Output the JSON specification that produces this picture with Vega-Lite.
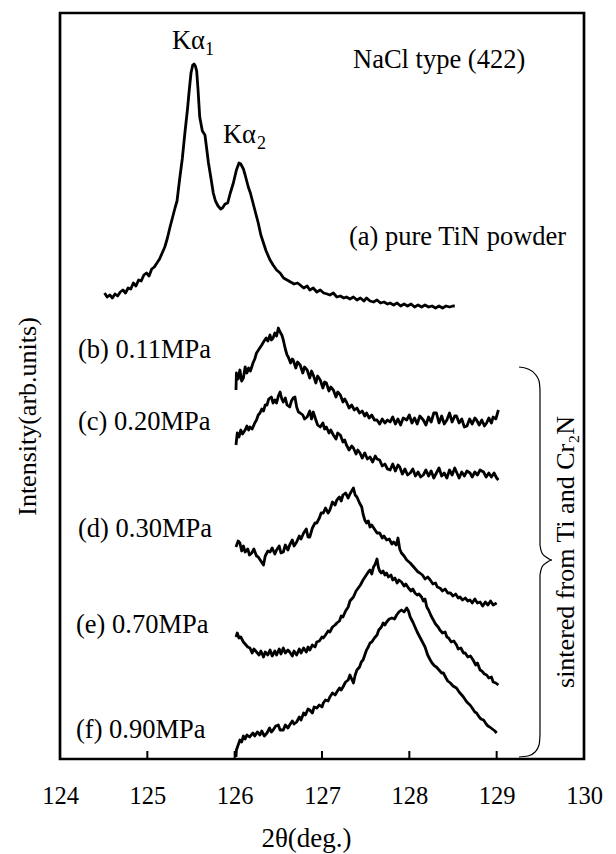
{
  "$schema": "https://vega.github.io/schema/vega-lite/v6.json",
  "width": 524,
  "height": 746,
  "autosize": {"type": "none"},
  "padding": {"left": 60, "top": 13, "right": 32, "bottom": 95},
  "background": "white",
  "config": {
    "view": {"stroke": "black", "strokeWidth": 2.7},
    "font": "Liberation Serif"
  },
  "datasets": {
    "a": [[124.51,466],[124.54,462],[124.57,464],[124.60,461],[124.63,465],[124.66,463],[124.69,467],[124.72,469],[124.75,466],[124.78,471],[124.81,470],[124.84,476],[124.87,473],[124.90,479],[124.93,478],[124.96,484],[124.99,486],[125.02,483],[125.05,490],[125.08,492],[125.11,496],[125.14,500],[125.17,506],[125.20,512],[125.23,521],[125.26,532],[125.29,542],[125.32,552],[125.34,558],[125.37,580],[125.40,600],[125.43,626],[125.46,650],[125.48,669],[125.50,686],[125.52,694],[125.535,695],[125.55,693],[125.565,688],[125.58,670],[125.60,642],[125.63,628],[125.66,624],[125.68,610],[125.70,596],[125.73,580],[125.755,566],[125.78,558],[125.81,553],[125.84,550],[125.86,551],[125.89,555],[125.92,556],[125.95,566],[125.985,576],[126.02,589],[126.05,596],[126.07,595],[126.10,590],[126.12,584],[126.156,572],[126.18,566],[126.21,556],[126.24,546],[126.27,536],[126.30,524],[126.33,516],[126.36,508],[126.405,499],[126.44,494],[126.48,489],[126.52,486],[126.56,481],[126.60,479],[126.64,477],[126.68,475],[126.72,476],[126.75,474],[126.79,471],[126.83,473],[126.86,469],[126.90,471],[126.94,467],[126.98,469],[127.02,466],[127.06,465],[127.09,464],[127.13,466],[127.17,462],[127.21,463],[127.25,461],[127.28,462],[127.32,460],[127.36,462],[127.40,459],[127.44,461],[127.48,458],[127.51,461],[127.55,458],[127.59,457],[127.63,459],[127.67,456],[127.71,457],[127.75,455],[127.78,456],[127.82,454],[127.86,456],[127.90,453],[127.94,455],[127.98,453],[128.02,455],[128.06,452],[128.10,454],[128.14,452],[128.18,454],[128.22,452],[128.26,453],[128.30,451],[128.34,453],[128.38,451],[128.42,453],[128.46,452],[128.50,453],[128.52,453]],
    "b": [[126.015,369],[126.02,386],[126.04,380],[126.06,389],[126.08,378],[126.10,381],[126.12,392],[126.14,386],[126.16,391],[126.18,388],[126.21,396],[126.23,400],[126.25,406],[126.28,410],[126.31,414],[126.33,417],[126.36,421],[126.38,418],[126.405,424],[126.42,419],[126.44,421],[126.46,426],[126.48,423],[126.50,431],[126.52,427],[126.54,424],[126.557,419],[126.58,410],[126.60,404],[126.614,402],[126.64,396],[126.66,400],[126.67,399],[126.70,391],[126.72,397],[126.75,394],[126.78,386],[126.80,392],[126.83,389],[126.86,381],[126.88,388],[126.90,384],[126.93,376],[126.95,383],[126.98,379],[127.01,371],[127.03,377],[127.05,376],[127.08,368],[127.10,372],[127.13,369],[127.16,362],[127.18,367],[127.21,364],[127.24,357],[127.26,360],[127.28,357],[127.31,351],[127.34,354],[127.37,349],[127.40,351],[127.43,346],[127.46,348],[127.49,343],[127.51,346],[127.54,341],[127.57,344],[127.60,339],[127.63,339],[127.66,335],[127.69,340],[127.72,336],[127.75,339],[127.78,337],[127.81,342],[127.84,335],[127.87,340],[127.90,334],[127.93,341],[127.97,339],[128.00,344],[128.03,336],[128.06,341],[128.09,335],[128.12,343],[128.16,339],[128.19,334],[128.22,342],[128.25,337],[128.28,346],[128.31,346],[128.34,336],[128.37,343],[128.40,335],[128.43,339],[128.46,346],[128.49,337],[128.52,343],[128.54,343],[128.57,336],[128.60,340],[128.63,332],[128.66,333],[128.69,340],[128.72,335],[128.75,341],[128.77,339],[128.80,334],[128.83,339],[128.86,333],[128.885,336],[128.91,341],[128.94,336],[128.96,342],[128.99,340],[129.01,346],[129.02,349]],
    "c": [[126.015,314],[126.03,326],[126.05,322],[126.07,329],[126.09,325],[126.12,329],[126.14,333],[126.16,329],[126.175,332],[126.20,330],[126.23,336],[126.25,339],[126.27,344],[126.29,346],[126.31,350],[126.33,348],[126.35,354],[126.37,354],[126.39,360],[126.42,362],[126.44,356],[126.46,359],[126.48,356],[126.50,363],[126.52,367],[126.54,360],[126.556,357],[126.58,361],[126.60,354],[126.63,352],[126.65,358],[126.67,361],[126.69,362],[126.71,352],[126.73,347],[126.75,346],[126.78,344],[126.80,340],[126.83,342],[126.86,348],[126.88,340],[126.90,347],[126.93,339],[126.95,334],[126.98,332],[127.01,336],[127.03,330],[127.05,332],[127.08,326],[127.10,329],[127.13,324],[127.16,320],[127.18,326],[127.21,324],[127.24,317],[127.26,319],[127.28,314],[127.31,309],[127.34,313],[127.36,311],[127.39,305],[127.41,309],[127.435,306],[127.46,301],[127.49,306],[127.52,300],[127.55,302],[127.58,297],[127.61,303],[127.63,300],[127.66,299],[127.69,293],[127.72,295],[127.75,290],[127.78,289],[127.81,295],[127.84,288],[127.87,294],[127.89,292],[127.92,285],[127.95,290],[127.98,284],[128.01,286],[128.04,290],[128.07,283],[128.10,287],[128.13,282],[128.16,284],[128.19,289],[128.22,283],[128.25,288],[128.28,281],[128.31,286],[128.34,291],[128.37,283],[128.40,286],[128.43,281],[128.46,289],[128.49,284],[128.52,291],[128.54,287],[128.57,281],[128.60,287],[128.63,283],[128.66,288],[128.695,286],[128.72,282],[128.75,287],[128.78,284],[128.81,289],[128.85,287],[128.88,282],[128.91,286],[128.94,282],[128.97,286],[129.00,281],[129.02,279]],
    "d": [[126.015,212],[126.04,218],[126.06,216],[126.08,208],[126.10,213],[126.12,207],[126.15,210],[126.17,204],[126.195,206],[126.22,210],[126.25,203],[126.27,202],[126.30,198],[126.33,194],[126.35,203],[126.38,208],[126.405,207],[126.43,211],[126.46,205],[126.48,209],[126.51,213],[126.53,206],[126.557,207],[126.58,214],[126.61,209],[126.63,214],[126.66,219],[126.68,213],[126.71,217],[126.74,223],[126.76,220],[126.79,226],[126.82,230],[126.84,222],[126.86,222],[126.89,231],[126.92,236],[126.94,236],[126.97,241],[126.99,246],[127.015,246],[127.04,251],[127.07,246],[127.09,249],[127.12,257],[127.15,254],[127.17,259],[127.20,262],[127.22,258],[127.24,264],[127.27,266],[127.30,261],[127.32,265],[127.34,268],[127.36,271],[127.38,264],[127.40,262],[127.43,256],[127.455,252],[127.47,245],[127.49,239],[127.51,236],[127.53,238],[127.55,232],[127.57,234],[127.60,230],[127.63,226],[127.66,226],[127.69,221],[127.71,223],[127.74,219],[127.77,220],[127.80,215],[127.82,217],[127.85,214],[127.87,221],[127.89,210],[127.91,206],[127.94,203],[127.97,199],[128.01,196],[128.04,193],[128.07,190],[128.10,187],[128.12,186],[128.15,184],[128.18,180],[128.21,182],[128.24,179],[128.27,175],[128.30,176],[128.32,172],[128.35,171],[128.38,168],[128.41,170],[128.44,166],[128.47,166],[128.50,163],[128.53,165],[128.56,161],[128.58,162],[128.61,159],[128.64,161],[128.67,158],[128.695,159],[128.72,156],[128.75,160],[128.78,156],[128.81,157],[128.84,153],[128.87,157],[128.90,154],[128.93,158],[128.96,154],[129.00,156]],
    "e": [[126.015,122],[126.03,126],[126.05,121],[126.07,122],[126.10,117],[126.12,115],[126.15,112],[126.175,111],[126.20,106],[126.22,110],[126.25,107],[126.28,104],[126.30,108],[126.33,102],[126.35,107],[126.38,104],[126.405,109],[126.43,103],[126.46,108],[126.48,104],[126.51,110],[126.53,105],[126.557,111],[126.58,106],[126.61,109],[126.63,107],[126.66,103],[126.68,108],[126.71,104],[126.74,110],[126.76,106],[126.79,111],[126.82,107],[126.84,112],[126.86,109],[126.89,114],[126.92,112],[126.94,117],[126.97,118],[127.00,122],[127.015,121],[127.04,124],[127.07,128],[127.09,127],[127.12,132],[127.15,134],[127.17,136],[127.20,138],[127.22,143],[127.24,142],[127.27,148],[127.30,152],[127.32,158],[127.34,160],[127.36,162],[127.39,168],[127.415,171],[127.44,174],[127.47,179],[127.50,183],[127.53,187],[127.55,189],[127.57,185],[127.59,192],[127.61,195],[127.63,200],[127.645,192],[127.66,188],[127.68,186],[127.70,188],[127.72,184],[127.74,186],[127.76,182],[127.79,184],[127.81,179],[127.835,181],[127.86,176],[127.88,179],[127.91,177],[127.94,173],[127.96,175],[127.99,171],[128.02,168],[128.04,170],[128.065,166],[128.09,164],[128.11,165],[128.14,162],[128.16,158],[128.18,160],[128.20,152],[128.22,149],[128.25,143],[128.275,139],[128.30,135],[128.33,132],[128.35,129],[128.38,126],[128.41,127],[128.43,122],[128.45,121],[128.48,117],[128.51,118],[128.54,114],[128.56,110],[128.59,111],[128.62,106],[128.64,106],[128.67,102],[128.70,103],[128.73,99],[128.76,94],[128.78,96],[128.81,89],[128.83,88],[128.86,85],[128.885,84],[128.91,81],[128.94,82],[128.96,77],[128.99,76],[129.02,74]],
    "f": [[126.015,2],[126.02,9],[126.04,14],[126.06,19],[126.08,17],[126.10,23],[126.12,20],[126.14,24],[126.17,22],[126.21,26],[126.23,23],[126.26,27],[126.29,24],[126.31,28],[126.34,23],[126.37,26],[126.40,31],[126.42,27],[126.44,29],[126.47,33],[126.50,34],[126.52,29],[126.557,29],[126.58,34],[126.61,31],[126.63,34],[126.66,38],[126.68,35],[126.71,37],[126.74,42],[126.76,39],[126.79,46],[126.81,44],[126.84,50],[126.86,49],[126.89,46],[126.91,52],[126.94,51],[126.97,54],[127.00,52],[127.015,56],[127.04,59],[127.07,58],[127.09,62],[127.12,66],[127.15,64],[127.17,67],[127.20,71],[127.22,69],[127.24,72],[127.27,77],[127.30,79],[127.32,84],[127.34,80],[127.36,76],[127.38,84],[127.40,89],[127.43,92],[127.45,97],[127.47,99],[127.49,104],[127.51,109],[127.53,112],[127.55,116],[127.57,117],[127.60,121],[127.63,124],[127.65,129],[127.68,132],[127.70,136],[127.72,134],[127.74,137],[127.77,140],[127.80,141],[127.83,140],[127.855,144],[127.88,147],[127.91,149],[127.94,147],[127.97,151],[127.99,148],[128.01,142],[128.04,137],[128.065,132],[128.09,127],[128.12,122],[128.15,117],[128.18,112],[128.21,104],[128.24,99],[128.26,96],[128.29,93],[128.31,92],[128.34,89],[128.37,86],[128.39,86],[128.42,81],[128.44,78],[128.47,76],[128.50,73],[128.54,71],[128.57,67],[128.60,64],[128.62,62],[128.65,58],[128.67,56],[128.695,54],[128.72,51],[128.75,47],[128.77,46],[128.80,42],[128.82,40],[128.85,39],[128.88,35],[128.90,33],[128.92,32],[128.95,30],[128.98,28],[129.00,26]]
  },
  "layer": [
    {
      "data": {"name": "a"},
      "transform": [
        {"calculate": "datum[0]", "as": "theta"},
        {"calculate": "datum[1]", "as": "intensity"}
      ],
      "mark": {"type": "line", "color": "black", "strokeWidth": 2.8, "strokeJoin": "round"},
      "encoding": {
        "x": {"field": "theta", "type": "quantitative",
          "scale": {"domain": [124, 130], "nice": false, "zero": false},
          "axis": {"values": [124, 125, 126, 127, 128, 129, 130], "format": "d", "ticks": false, "tickSize": 0, "domain": false, "grid": false,
            "labelFont": "Liberation Serif", "labelFontSize": 24.5, "labelColor": "black", "labelPadding": 44, "labelBaseline": "alphabetic",
            "labelFlush": false, "labelOverlap": false,
            "title": "2θ(deg.)", "titleFont": "Liberation Serif", "titleFontSize": 27, "titleFontWeight": "normal", "titleColor": "black",
            "titleX": 246, "titleY": 87, "titleBaseline": "alphabetic", "titleAnchor": "start", "titleAlign": "center"}},
        "y": {"field": "intensity", "type": "quantitative",
          "scale": {"domain": [0, 746], "nice": false, "zero": false},
          "axis": {"labels": false, "ticks": false, "domain": false, "grid": false,
            "title": "Intensity(arb.units)", "titleFont": "Liberation Serif", "titleFontSize": 26, "titleFontWeight": "normal", "titleColor": "black",
            "titleX": -33, "titleY": 403, "titleAngle": 270, "titleBaseline": "middle", "titleAlign": "center"}}
      }
    },
    {"data": {"name": "b"}, "transform": [{"calculate": "datum[0]", "as": "theta"}, {"calculate": "datum[1]", "as": "intensity"}],
     "mark": {"type": "line", "color": "black", "strokeWidth": 2.8, "strokeJoin": "round"},
     "encoding": {"x": {"field": "theta", "type": "quantitative"}, "y": {"field": "intensity", "type": "quantitative"}}},
    {"data": {"name": "c"}, "transform": [{"calculate": "datum[0]", "as": "theta"}, {"calculate": "datum[1]", "as": "intensity"}],
     "mark": {"type": "line", "color": "black", "strokeWidth": 2.8, "strokeJoin": "round"},
     "encoding": {"x": {"field": "theta", "type": "quantitative"}, "y": {"field": "intensity", "type": "quantitative"}}},
    {"data": {"name": "d"}, "transform": [{"calculate": "datum[0]", "as": "theta"}, {"calculate": "datum[1]", "as": "intensity"}],
     "mark": {"type": "line", "color": "black", "strokeWidth": 2.8, "strokeJoin": "round"},
     "encoding": {"x": {"field": "theta", "type": "quantitative"}, "y": {"field": "intensity", "type": "quantitative"}}},
    {"data": {"name": "e"}, "transform": [{"calculate": "datum[0]", "as": "theta"}, {"calculate": "datum[1]", "as": "intensity"}],
     "mark": {"type": "line", "color": "black", "strokeWidth": 2.8, "strokeJoin": "round"},
     "encoding": {"x": {"field": "theta", "type": "quantitative"}, "y": {"field": "intensity", "type": "quantitative"}}},
    {"data": {"name": "f"}, "transform": [{"calculate": "datum[0]", "as": "theta"}, {"calculate": "datum[1]", "as": "intensity"}],
     "mark": {"type": "line", "color": "black", "strokeWidth": 2.8, "strokeJoin": "round"},
     "encoding": {"x": {"field": "theta", "type": "quantitative"}, "y": {"field": "intensity", "type": "quantitative"}}},
    {
      "data": {"values": [{"t": 125, "y0": 0, "y1": 8}, {"t": 126, "y0": 0, "y1": 8}, {"t": 127, "y0": 0, "y1": 8}, {"t": 128, "y0": 0, "y1": 8}, {"t": 129, "y0": 0, "y1": 8}]},
      "mark": {"type": "rule", "color": "black", "strokeWidth": 2},
      "encoding": {"x": {"field": "t", "type": "quantitative"}, "y": {"field": "y0", "type": "quantitative"}, "y2": {"field": "y1"}}
    },
    {
      "data": {"values": [
        {"i": 0, "bx": 129.256, "by": 392}, {"i": 1, "bx": 129.359, "by": 390}, {"i": 2, "bx": 129.439, "by": 385}, {"i": 3, "bx": 129.485, "by": 378},
        {"i": 4, "bx": 129.496, "by": 369}, {"i": 5, "bx": 129.496, "by": 214}, {"i": 6, "bx": 129.519, "by": 206}, {"i": 7, "bx": 129.565, "by": 202},
        {"i": 8, "bx": 129.634, "by": 199}, {"i": 9, "bx": 129.565, "by": 196}, {"i": 10, "bx": 129.519, "by": 192}, {"i": 11, "bx": 129.496, "by": 184},
        {"i": 12, "bx": 129.496, "by": 24}, {"i": 13, "bx": 129.485, "by": 14}, {"i": 14, "bx": 129.439, "by": 7}, {"i": 15, "bx": 129.359, "by": 3}, {"i": 16, "bx": 129.256, "by": 2}
      ]},
      "mark": {"type": "line", "color": "black", "strokeWidth": 1.2, "interpolate": "monotone"},
      "encoding": {"x": {"field": "bx", "type": "quantitative"}, "y": {"field": "by", "type": "quantitative"}, "order": {"field": "i", "type": "quantitative"}}
    },
    {
      "data": {"values": [
        {"lx": 125.282, "ly": 710, "txt": "Kα"},
        {"lx": 125.866, "ly": 616, "txt": "Kα"},
        {"lx": 127.355, "ly": 691, "txt": "NaCl type (422)"},
        {"lx": 127.309, "ly": 514, "txt": "(a) pure TiN powder"},
        {"lx": 124.206, "ly": 401, "txt": "(b) 0.11MPa"},
        {"lx": 124.206, "ly": 329, "txt": "(c) 0.20MPa"},
        {"lx": 124.206, "ly": 222, "txt": "(d) 0.30MPa"},
        {"lx": 124.183, "ly": 126, "txt": "(e) 0.70MPa"},
        {"lx": 124.183, "ly": 21, "txt": "(f) 0.90MPa"}
      ]},
      "mark": {"type": "text", "font": "Liberation Serif", "fontSize": 26.5, "align": "left", "baseline": "alphabetic", "color": "black"},
      "encoding": {"x": {"field": "lx", "type": "quantitative"}, "y": {"field": "ly", "type": "quantitative"}, "text": {"field": "txt"}}
    },
    {
      "data": {"values": [
        {"lx": 125.66, "ly": 704, "txt": "1"},
        {"lx": 126.256, "ly": 610, "txt": "2"}
      ]},
      "mark": {"type": "text", "font": "Liberation Serif", "fontSize": 18, "align": "left", "baseline": "alphabetic", "color": "black"},
      "encoding": {"x": {"field": "lx", "type": "quantitative"}, "y": {"field": "ly", "type": "quantitative"}, "text": {"field": "txt"}}
    },
    {
      "data": {"values": [{"lx": 129.794, "ly": 207, "txt": "sintered from Ti and Cr₂N"}]},
      "mark": {"type": "text", "font": "Liberation Serif", "fontSize": 26, "align": "center", "baseline": "middle", "angle": 270, "color": "black"},
      "encoding": {"x": {"field": "lx", "type": "quantitative"}, "y": {"field": "ly", "type": "quantitative"}, "text": {"field": "txt"}}
    }
  ]
}
